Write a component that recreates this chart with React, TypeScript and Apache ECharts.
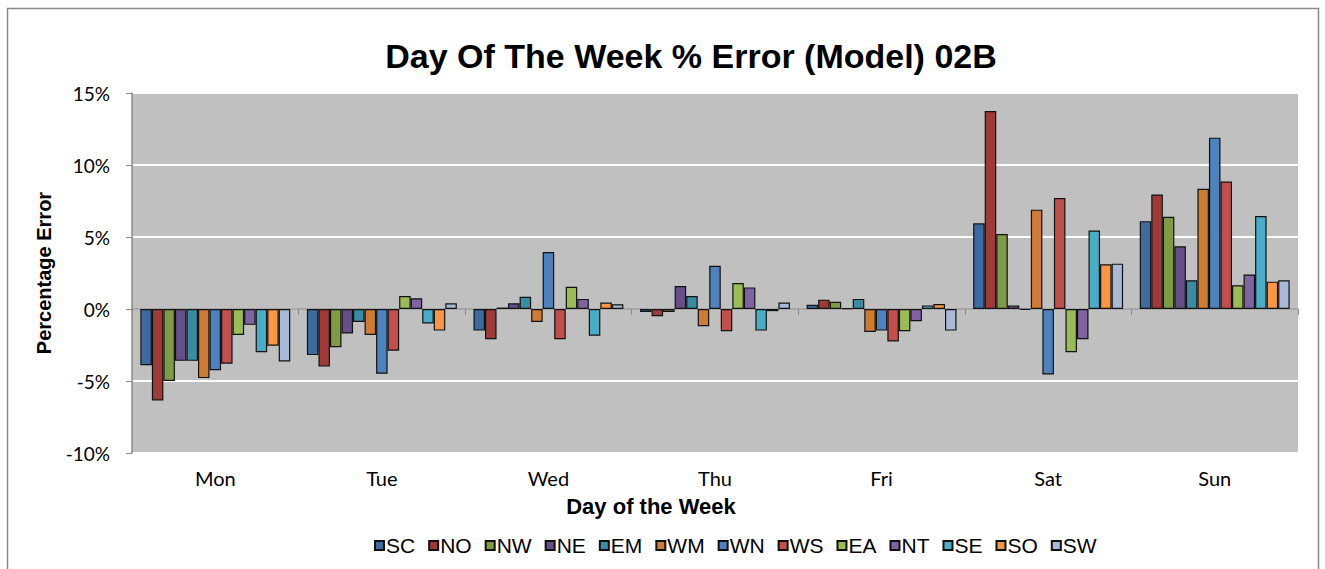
import React, { useEffect, useRef } from "react";
import * as echarts from "echarts";

const days = ["Mon", "Tue", "Wed", "Thu", "Fri", "Sat", "Sun"];
const yTicks = { min: -10, max: 15, interval: 5 };

const SC = [-3.9, -3.2, -1.5, -0.2, 0.3, 5.95, 6.1];
const NO = [-6.35, -4.0, -2.1, -0.5, 0.65, 13.75, 7.95];
const NW = [-5.0, -2.65, 0.1, -0.2, 0.5, 5.2, 6.4];
const NE = [-3.6, -1.7, 0.4, 1.6, 0.05, 0.25, 4.35];
const EM = [-3.6, -0.9, 0.85, 0.9, 0.7, -0.05, 2.0];
const WM = [-4.8, -1.8, -0.9, -1.2, -1.6, 6.9, 8.35];
const WN = [-4.25, -4.5, 3.95, 3.0, -1.5, -4.55, 11.9];
const WS = [-3.8, -2.9, -2.1, -1.55, -2.25, 7.7, 8.85];
const EA = [-1.8, 0.9, 1.55, 1.8, -1.55, -3.0, 1.65];
const NT = [-1.1, 0.75, 0.7, 1.5, -0.85, -2.1, 2.4];
const SE = [-3.0, -1.0, -1.85, -1.5, 0.25, 5.45, 6.45];
const SO = [-2.55, -1.5, 0.45, -0.15, 0.35, 3.1, 1.9];
const SW = [-3.65, 0.4, 0.33, 0.45, -1.5, 3.15, 2.0];

const seriesNames = ["SC", "NO", "NW", "NE", "EM", "WM", "WN", "WS", "EA", "NT", "SE", "SO", "SW"];
const seriesData = [SC, NO, NW, NE, EM, WM, WN, WS, EA, NT, SE, SO, SW];
const seriesColors = [
  "#3D6A9F", "#9E3B38", "#7F9B48", "#664F88", "#3A8CA3", "#CE7B36",
  "#4F81BD", "#C0504D", "#9BBB59", "#8064A2", "#4BACC6", "#F79646", "#A9B9D7",
];

export default function App() {
  const ref = useRef<HTMLDivElement>(null);
  useEffect(() => {
    if (!ref.current) return;
    const chart = echarts.init(ref.current, null, { renderer: "svg" });
    const labelFont = "Lato, 'Open Sans', sans-serif";
    const boldFont = "'Liberation Sans', Arial, sans-serif";
    chart.setOption({
      animation: false,
      backgroundColor: "#ffffff",
      graphic: [
        {
          type: "rect",
          shape: { x: 7.5, y: 8.5, width: 1311, height: 620 },
          style: { fill: "none", stroke: "#8a8a8a", lineWidth: 1.5 },
          silent: true,
        },
        {
          type: "text",
          x: 691,
          y: 56,
          style: {
            text: "Day Of The Week % Error (Model) 02B",
            fontFamily: boldFont,
            fontWeight: "bold",
            fontSize: 34,
            fill: "#000",
            textAlign: "center",
            textVerticalAlign: "middle",
          },
        },
        {
          type: "text",
          x: 44,
          y: 273,
          rotation: Math.PI / 2,
          style: {
            text: "Percentage Error",
            fontFamily: boldFont,
            fontWeight: "bold",
            fontSize: 20,
            fill: "#000",
            textAlign: "center",
            textVerticalAlign: "middle",
          },
        },
        {
          type: "text",
          x: 651,
          y: 506,
          style: {
            text: "Day of the Week",
            fontFamily: boldFont,
            fontWeight: "bold",
            fontSize: 22,
            fill: "#000",
            textAlign: "center",
            textVerticalAlign: "middle",
          },
        },
      ],
      legend: {
        data: seriesNames,
        left: 369,
        top: 530,
        icon: "rect",
        itemWidth: 9,
        itemHeight: 9,
        itemGap: 13,
        textStyle: { fontFamily: boldFont, fontSize: 21, color: "#000", padding: [0, 0, 0, -3] },
      },
      grid: {
        left: 132,
        right: 27,
        top: 93,
        bottom: 116,
        show: true,
        backgroundColor: "#C0C0C0",
        borderWidth: 0,
      },
      xAxis: [
        {
          type: "category",
          data: days,
          position: "top",
          axisLine: { onZero: true, lineStyle: { color: "#8a8a8a", width: 1.5 } },
          axisTick: { show: true, inside: true, length: 6, lineStyle: { color: "#8a8a8a" } },
          axisLabel: { show: false },
          splitLine: { show: false },
        },
        {
          type: "category",
          data: days,
          position: "bottom",
          axisLine: { show: false, onZero: false },
          axisTick: { show: false },
          axisLabel: { fontFamily: labelFont, fontSize: 20, color: "#000", margin: 15 },
          splitLine: { show: false },
        },
      ],
      yAxis: {
        type: "value",
        min: yTicks.min,
        max: yTicks.max,
        interval: yTicks.interval,
        axisLine: { show: true, lineStyle: { color: "#8a8a8a", width: 1.5 } },
        axisTick: { show: true, length: 6, lineStyle: { color: "#8a8a8a" } },
        axisLabel: { formatter: "{value}%", fontFamily: labelFont, fontSize: 19, color: "#000", margin: 22 },
        splitLine: { show: true, lineStyle: { color: "#ffffff", width: 2 } },
      },
      series: seriesNames.map((name, i) => ({
        name,
        type: "bar",
        xAxisIndex: 0,
        data: seriesData[i],
        barGap: "0%",
        barCategoryGap: "10%",
        itemStyle: { color: seriesColors[i], borderColor: "#111", borderWidth: 1.2 },
      })),
    });
    return () => chart.dispose();
  }, []);
  return (
    <div
      ref={ref}
      style={{ position: "fixed", left: 0, top: 0, width: 1325, height: 569 }}
    />
  );
}
